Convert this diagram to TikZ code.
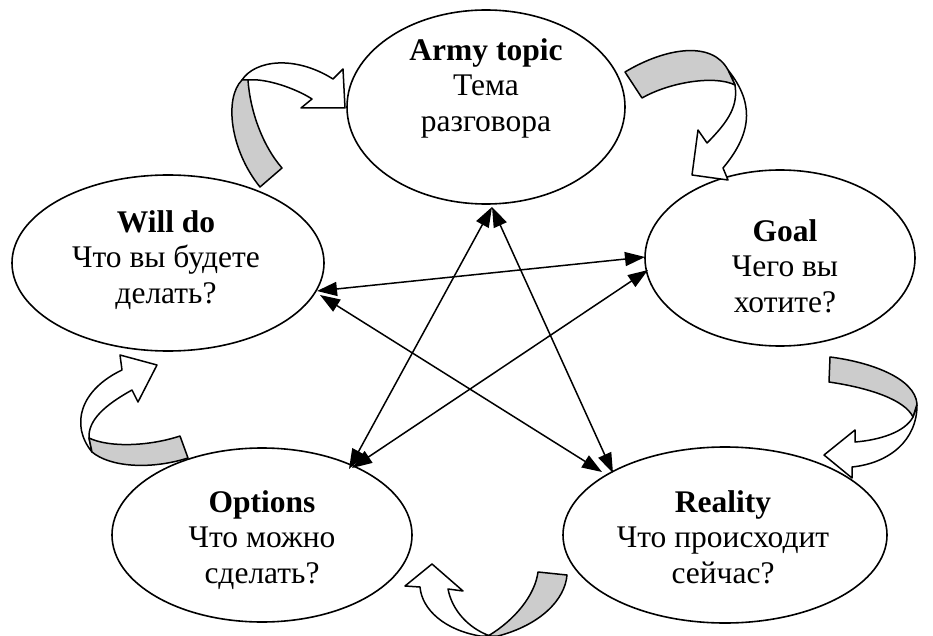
\documentclass[tikz,border=0pt]{standalone}
\usepackage{fontspec}
\setmainfont{Liberation Serif}
\usetikzlibrary{shapes.geometric,arrows.meta}
\tikzset{
  oval/.style={draw,ellipse,line width=1.6pt,inner sep=0pt,fill=white},
  lbl/.style={align=center,font=\fontsize{31.5}{35.5}\selectfont,inner sep=0pt},
  link/.style={line width=1.5pt,{Triangle[length=20pt,width=14pt]}-{Triangle[length=20pt,width=14pt]}},
  band/.style={draw,line width=1.5pt,fill=gray!40,line join=round},
  head/.style={draw,line width=1.5pt,fill=white,line join=round}
}
\begin{document}
\begin{tikzpicture}[x=1pt,y=-1pt]
\path[use as bounding box] (0,0) rectangle (933,636);

% ellipses
\node[oval,minimum width=278pt,minimum height=194pt] (army) at (486,107) {};
\node[oval,minimum width=270pt,minimum height=176pt] (goal) at (780,258) {};
\node[oval,minimum width=312pt,minimum height=176pt] (will) at (168,263) {};
\node[oval,minimum width=300pt,minimum height=174pt] (opt) at (262,535) {};
\node[oval,minimum width=324pt,minimum height=176pt] (real) at (725,535) {};

% labels
\node[lbl] (armyT) at (486,88) {\textbf{Army topic}\\Тема\\разговора};
\node[lbl] (goalT) at (785,266) {\textbf{Goal}\\Чего вы\\хотите?};
\node[lbl] (willT) at (166,260) {\textbf{Will do}\\Что вы будете\\делать?};
\node[lbl] (optT) at (262,540) {\textbf{Options}\\Что можно\\сделать?};
\node[lbl] (realT) at (723,537) {\textbf{Reality}\\Что происходит\\сейчас?};

% connector end points on the ellipses
\coordinate (aB) at (492,207);
\coordinate (oT) at (349,469);
\coordinate (rT1) at (613,473);
\coordinate (rT2) at (602,472);
\coordinate (wR1) at (317,291);
\coordinate (wR2) at (320,295);
\coordinate (gL1) at (645,257);
\coordinate (gL2) at (648,270);
\coordinate (oT2) at (352,468);

\draw[link] (aB) -- (oT);
\draw[link] (aB) -- (rT1);
\draw[link] (wR1) -- (gL1);
\draw[link] (wR2) -- (rT2);
\draw[link] (oT2) -- (gL2);

% curved arrow 1: Will do -> Army topic
\draw[head] (242,80) .. controls (255,60) and (295,55) .. (333,79) -- (343,69) -- (345,108)
  -- (301,108) -- (312,99) .. controls (295,88) and (265,78) .. (248,80) -- cycle;
\draw[band] (242,80) .. controls (224,98) and (230,150) .. (260,187) -- (282,168)
  .. controls (262,145) and (250,110) .. (248,80) -- cycle;

% curved arrow 2: Army topic -> Goal
\draw[head] (728,70) .. controls (752,100) and (755,130) .. (723,168) -- (728,180) -- (692,175)
  -- (698,130) -- (707,143) .. controls (730,120) and (738,105) .. (735,85) -- cycle;
\draw[band] (625,72) .. controls (665,48) and (712,40) .. (728,70) -- (735,85)
  .. controls (715,75) and (670,82) .. (642,98) -- cycle;

% curved arrow 3: Goal -> Reality
\draw[head] (913,417) .. controls (905,432) and (880,440) .. (855,442) -- (855,430) -- (824,455)
  -- (852,478) -- (852,467) .. controls (890,463) and (917,440) .. (917,405) -- cycle;
\draw[band] (830,357) .. controls (870,362) and (915,378) .. (917,404) -- (913,417)
  .. controls (905,400) and (870,388) .. (829,382) -- cycle;

% curved arrow 4: Reality -> Options
\draw[head] (480,636) .. controls (445,630) and (422,610) .. (420,587) -- (405,586) -- (432,564)
  -- (463,591) -- (448,589) .. controls (452,610) and (468,628) .. (490,636) -- cycle;
\draw[band] (567,575) .. controls (565,600) and (540,625) .. (498,636) -- (488,636)
  .. controls (515,620) and (535,595) .. (538,572) -- cycle;

% curved arrow 5: Options -> Will do
\draw[head] (92,452) .. controls (70,425) and (80,390) .. (122,370) -- (120,355) -- (157,365)
  -- (138,402) -- (132,390) .. controls (105,405) and (88,420) .. (89,438) -- cycle;
\draw[band] (180,436) .. controls (150,446) and (110,448) .. (89,438) -- (92,452)
  .. controls (110,467) and (150,470) .. (188,458) -- cycle;
\end{tikzpicture}
\end{document}
